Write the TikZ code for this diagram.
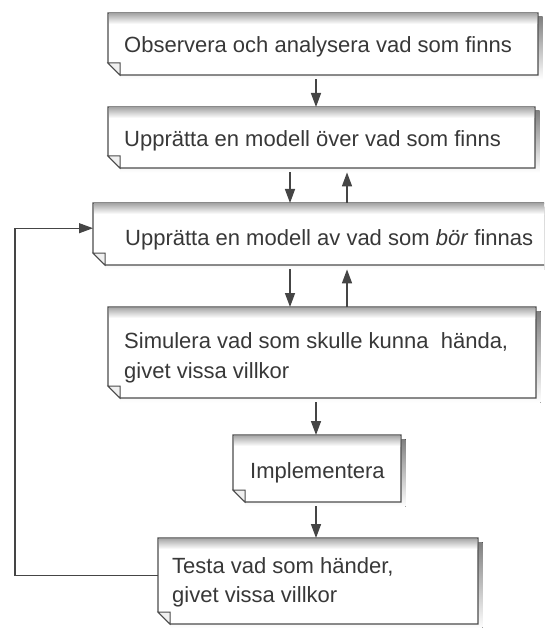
\documentclass[tikz,border=0pt]{standalone}
\usepackage{fontspec}
\setmainfont{Liberation Sans}
\usetikzlibrary{arrows.meta}

\definecolor{ink}{HTML}{454545}
\definecolor{edge}{HTML}{4C4C4C}
\definecolor{shade}{HTML}{4E4E4E}
\definecolor{txt}{HTML}{383838}

\tikzset{
  paper/.style={shape=rectangle, inner sep=0pt, anchor=north west},
  caption/.style={anchor=west, inner sep=0pt, text=txt, align=left,
    font=\fontsize{22}{29.5}\selectfont},
  flow/.style={draw=ink, line width=1.5pt, -{Triangle[length=14pt,width=10pt]}},
  back/.style={draw=ink, line width=1.1pt, -{Triangle[length=14pt,width=10pt]}},
}

% A sheet of paper with a drop shadow, a grey band at the top and a
% dog-eared lower left corner.  #1 name, (#2,#3) top left, (#4,#5) bottom right.
\newcommand\papersheet[5]{%
  \fill[shade] (#2+12,#3+4) rectangle (#4+4.5,#5+4.5);
  \filldraw[fill=white, draw=edge, line width=1.2pt]
    (#2,#3) -- (#4,#3) -- (#4,#5) -- (#2+12,#5) -- (#2,#5-12) -- cycle;
  \shade[top color=gray!65, bottom color=white]
    (#2+1,#3+1) rectangle (#4-1,#3+11);
  \filldraw[fill=gray!12, draw=edge, line width=1pt]
    (#2,#5-12) -- (#2+12,#5-12) -- (#2+12,#5) -- cycle;
  \node[paper, minimum width=#4-#2, minimum height=#5-#3] (#1) at (#2,#3) {};
}

\begin{document}
\begin{tikzpicture}[x=1pt, y=-1pt]
  \path[use as bounding box] (0,0) rectangle (544,628);
  \clip (0,0) rectangle (544,628);

  \papersheet{b1}{108}{13}{538}{75}
  \papersheet{b2}{108}{107}{535}{168}
  \papersheet{b3}{93}{203}{550}{265}
  \papersheet{b4}{108}{307}{536}{398}
  \papersheet{b5}{233}{435}{401}{502}
  \papersheet{b6}{158}{538}{478}{624}

  \node[caption] (t1) at ([xshift=16pt, yshift=-3pt]b1.west)
    {Observera och analysera vad som finns};
  \node[caption] (t2) at ([xshift=16pt, yshift=-3pt]b2.west)
    {Upprätta en modell över vad som finns};
  \node[caption] (t3) at ([xshift=32pt, yshift=-6pt]b3.west)
    {Upprätta en modell av vad som \textit{bör} finnas};
  \node[caption] (t4) at ([xshift=16pt, yshift=-5pt]b4.west)
    {Simulera vad som skulle kunna\ \ hända,\\givet vissa villkor};
  \node[caption] (t5) at ([xshift=17pt, yshift=-4pt]b5.west)
    {Implementera};
  \node[caption] (t6) at ([xshift=14pt, yshift=-1pt]b6.west)
    {Testa vad som händer,\\givet vissa villkor};

  % columns of the vertical connectors
  \coordinate (cm) at (316,0);
  \coordinate (cl) at (290,0);
  \coordinate (cr) at (347,0);
  \coordinate (loop) at (15,0);

  \draw[flow] ([yshift=-4pt]b1.south -| cm) -- (b2.north -| cm);
  \draw[flow] ([yshift=-4pt]b2.south -| cl) -- (b3.north -| cl);
  \draw[flow] (b3.north -| cr) -- ([yshift=-4pt]b2.south -| cr);
  \draw[flow] ([yshift=-4pt]b3.south -| cl) -- (b4.north -| cl);
  \draw[flow] (b4.north -| cr) -- ([yshift=-4pt]b3.south -| cr);
  \draw[flow] ([yshift=-4pt]b4.south -| cm) -- (b5.north -| cm);
  \draw[flow] ([yshift=-4pt]b5.south -| cm) -- (b6.north -| cm);

  % feedback from testing back to the normative model
  \coordinate (fbout) at ([yshift=6pt]b6.west);
  \coordinate (fbin) at ([yshift=6pt]b3.west);
  \draw[back] (fbout) -- (fbout -| loop) |- (fbin);
\end{tikzpicture}
\end{document}
